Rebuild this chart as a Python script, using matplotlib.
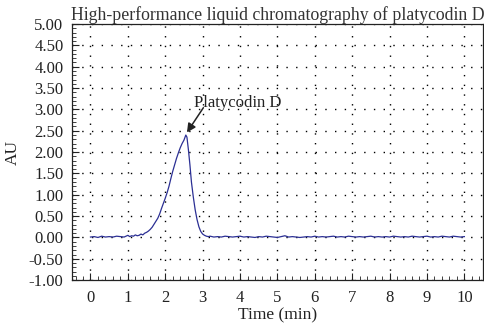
import matplotlib
matplotlib.use("Agg")
import matplotlib.pyplot as plt
from matplotlib.ticker import MultipleLocator, FormatStrFormatter

plt.rcParams['font.family'] = ['Liberation Serif', 'DejaVu Serif']

# Retention time (min) and absorbance (AU)
time_min = [0.00, 0.10, 0.20, 0.30, 0.40, 0.50, 0.60, 0.70, 0.80, 0.90,
            1.00, 1.05, 1.10, 1.15, 1.20, 1.25, 1.30, 1.35, 1.40, 1.45,
            1.50, 1.55, 1.60, 1.65, 1.70, 1.75, 1.80, 1.85, 1.90, 1.95,
            2.00, 2.05, 2.10, 2.15, 2.20, 2.25, 2.30, 2.35, 2.40, 2.45,
            2.50, 2.55, 2.58, 2.62, 2.66, 2.70, 2.75, 2.80, 2.85, 2.90,
            2.95, 3.00, 3.05, 3.10, 3.15, 3.20, 3.30, 3.40, 3.50, 3.60,
            3.70, 3.80, 3.90, 4.00, 4.10, 4.20, 4.30, 4.40, 4.50, 4.60,
            4.70, 4.80, 4.90, 5.00, 5.10, 5.20, 5.30, 5.40, 5.50, 5.60,
            5.70, 5.80, 5.90, 6.00, 6.10, 6.20, 6.30, 6.40, 6.50, 6.60,
            6.70, 6.80, 6.90, 7.00, 7.10, 7.20, 7.30, 7.40, 7.50, 7.60,
            7.70, 7.80, 7.90, 8.00, 8.10, 8.20, 8.30, 8.40, 8.50, 8.60,
            8.70, 8.80, 8.90, 9.00, 9.10, 9.20, 9.30, 9.40, 9.50, 9.60,
            9.70, 9.80, 9.90, 10.00]
absorbance = [0.01, 0.02, 0.00, 0.03, 0.01, 0.02, 0.01, 0.03, 0.02, 0.01,
              0.05, 0.02, 0.04, 0.03, 0.06, 0.04, 0.05, 0.08, 0.06, 0.10,
              0.12, 0.15, 0.19, 0.24, 0.31, 0.38, 0.45, 0.55, 0.68, 0.80,
              0.92, 1.05, 1.20, 1.38, 1.55, 1.70, 1.85, 1.98, 2.10, 2.20,
              2.28, 2.40, 2.35, 2.05, 1.70, 1.30, 0.95, 0.65, 0.42, 0.25,
              0.14, 0.08, 0.05, 0.03, 0.02, 0.03, 0.01, 0.02, 0.01, 0.03,
              0.02, 0.01, 0.02, 0.03, 0.01, 0.02, 0.01, 0.00, 0.02, 0.01,
              0.03, 0.02, 0.01, 0.00, 0.02, 0.04, 0.01, 0.02, 0.01, 0.00,
              0.01, 0.02, 0.01, 0.03, 0.01, 0.02, 0.01, 0.02, 0.03, 0.01,
              0.02, 0.01, 0.03, 0.02, 0.01, 0.02, 0.01, 0.02, 0.03, 0.01,
              0.02, 0.01, 0.02, 0.01, 0.03, 0.02, 0.01, 0.02, 0.01, 0.03,
              0.02, 0.01, 0.02, 0.03, 0.01, 0.02, 0.01, 0.03, 0.02, 0.01,
              0.03, 0.02, 0.01, 0.02]

x_ticks = [0, 1, 2, 3, 4, 5, 6, 7, 8, 9, 10]
y_ticks = [-1.0, -0.5, 0.0, 0.5, 1.0, 1.5, 2.0, 2.5, 3.0, 3.5, 4.0, 4.5, 5.0]

fig = plt.figure(figsize=(4.85, 3.25), dpi=100)
ax = fig.add_axes([0.148, 0.138, 0.848, 0.788])

ax.plot(time_min, absorbance, color='#2b2f94', linewidth=0.9)

ax.set_xlim(-0.5, 10.5)
ax.set_ylim(-1.0, 5.0)
ax.set_xticks(x_ticks)
ax.set_yticks(y_ticks)
ax.yaxis.set_major_formatter(FormatStrFormatter('%.2f'))
ax.xaxis.set_minor_locator(MultipleLocator(0.2))
ax.yaxis.set_minor_locator(MultipleLocator(0.1))
ax.tick_params(which='both', direction='in', labelsize=12, color='#222222',
               labelcolor='#222222')
ax.tick_params(which='major', length=5, width=0.8)
ax.tick_params(which='minor', length=3, width=0.6)
ax.tick_params(axis='x', which='major', pad=7)
ax.tick_params(axis='y', which='major', pad=6)

ax.grid(True, which='major', color='black', linestyle=(0, (1, 6)), linewidth=1.0)

for s in ax.spines.values():
    s.set_linewidth(0.9)
    s.set_color('#222222')

ax.set_xlabel('Time (min)', fontsize=12.5, labelpad=1, color='#222222')
ax.set_ylabel('AU', fontsize=12.5, labelpad=6, color='#222222')
ax.set_title('High-performance liquid chromatography of platycodin D',
             fontsize=12.8, pad=3, color='#333333')

ax.text(2.78, 3.16, 'Platycodin D', ha='left', va='center', fontsize=12,
        color='#222222')
ax.annotate('', xy=(2.58, 2.46), xytext=(3.02, 3.04),
            arrowprops=dict(arrowstyle='-|>', color='#222222', lw=1.1,
                            mutation_scale=13, shrinkA=0, shrinkB=0))

fig.savefig('out.png', dpi=100)
